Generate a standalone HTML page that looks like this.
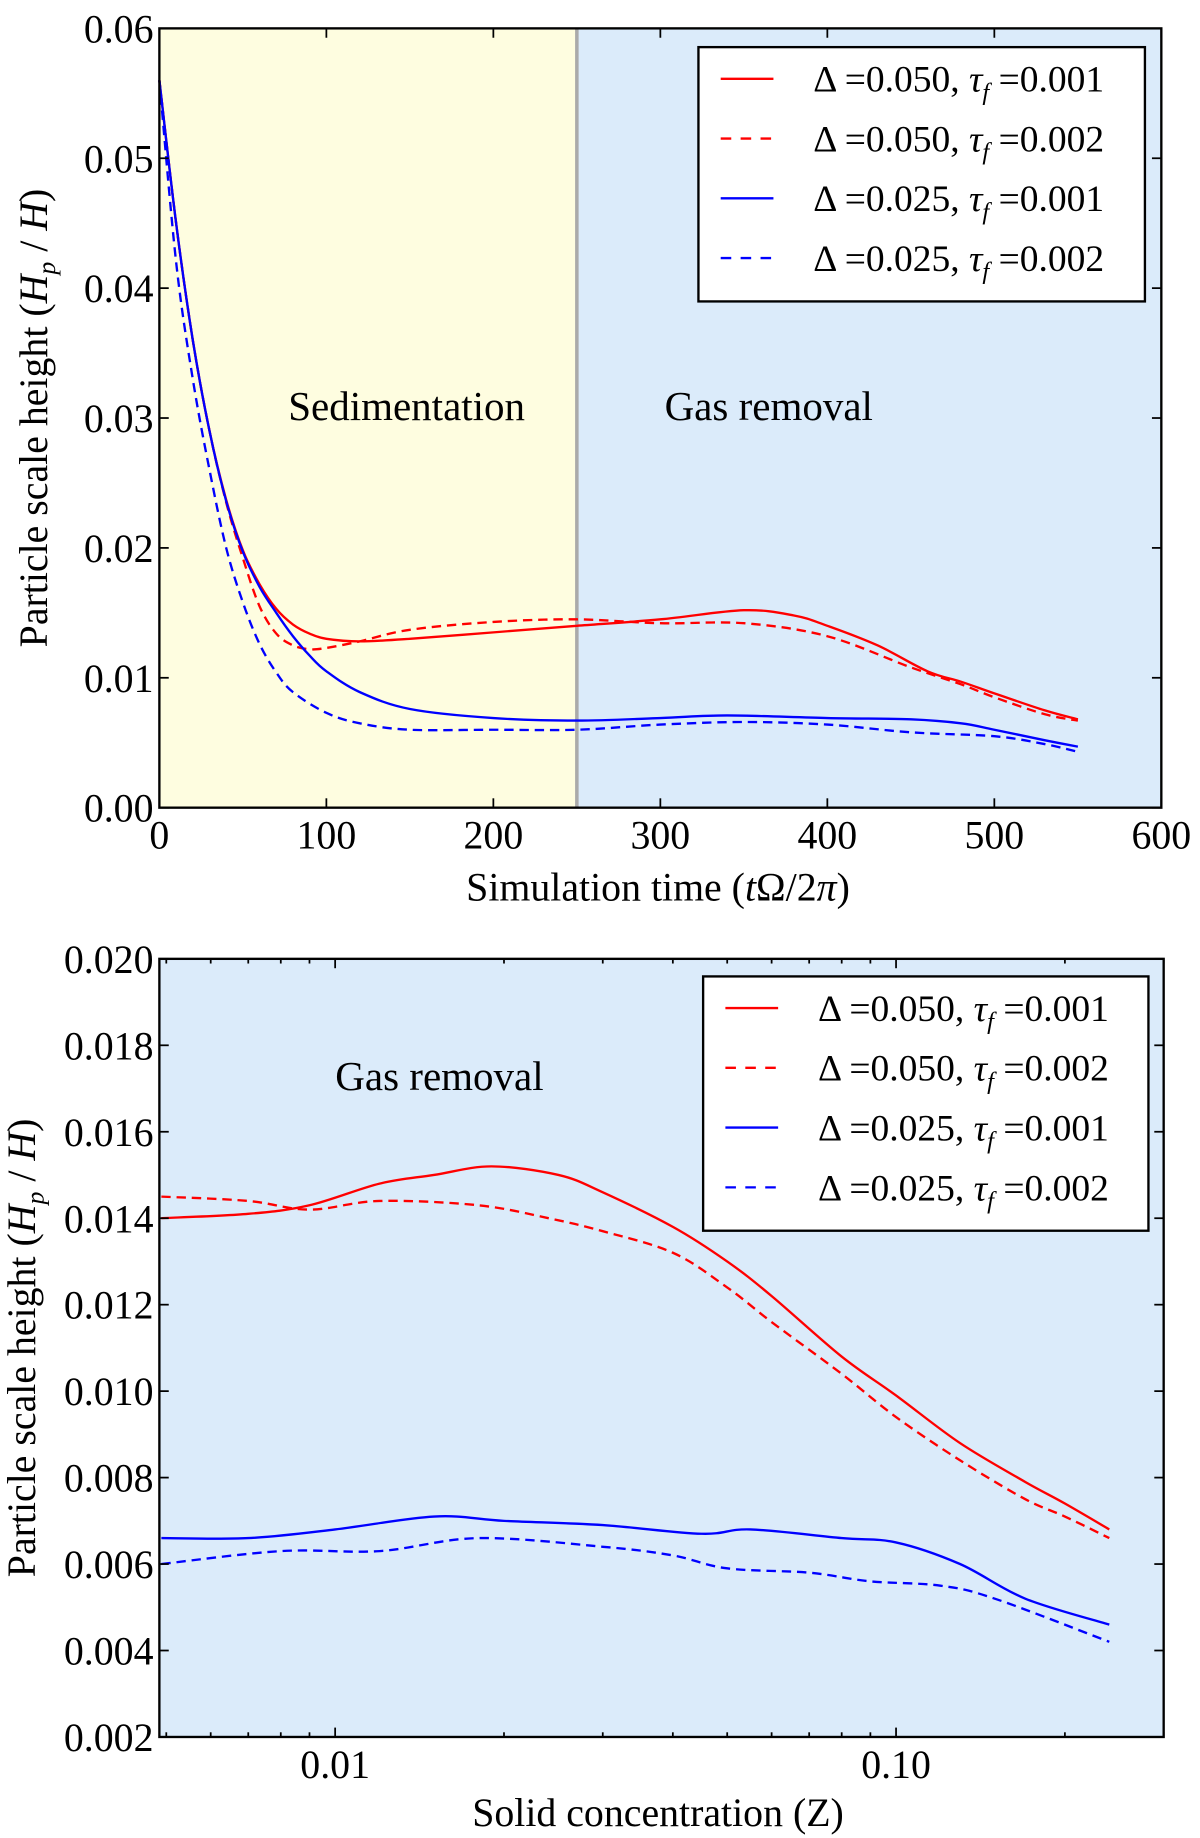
<!DOCTYPE html>
<html><head><meta charset="utf-8"><style>
html,body{margin:0;padding:0;background:#fff;}
svg{display:block;font-family:"Liberation Serif",serif;}
</style></head><body>
<svg id="fig" width="1200" height="1838" viewBox="0 0 1024 1568" xmlns="http://www.w3.org/2000/svg"></svg>
<script>
// ---- Top chart data ----
const topSeriesNames = ["Δ=0.050, τf=0.001","Δ=0.050, τf=0.002","Δ=0.025, τf=0.001","Δ=0.025, τf=0.002"];
const topRedSolidT = [0,10,20,30,40,50,60,70,80,90,100,120,150,200,250,300,350,380,400,430,460,480,500,530,550];
const topRedSolidH = [0.056,0.045,0.036,0.029,0.0237,0.0198,0.0172,0.0153,0.0141,0.0134,0.013,0.0128,0.013,0.0135,0.014,0.0145,0.0152,0.0148,0.014,0.0125,0.0105,0.0097,0.0088,0.0075,0.0068];
const topRedDashT = [0,10,20,30,40,50,60,70,80,90,100,120,150,200,250,300,350,400,450,480,500,530,550];
const topRedDashH = [0.056,0.045,0.036,0.029,0.0235,0.0192,0.0155,0.0134,0.0125,0.0122,0.0123,0.0128,0.0137,0.0143,0.0145,0.0142,0.0142,0.0132,0.0108,0.0095,0.0085,0.0072,0.0067];
const topBlueSolidT = [0,10,20,30,40,50,60,70,80,90,100,120,150,200,250,300,340,400,450,480,500,530,550];
const topBlueSolidH = [0.056,0.045,0.036,0.029,0.0236,0.0197,0.0170,0.0150,0.0132,0.0117,0.0105,0.0089,0.0076,0.0069,0.0067,0.0069,0.0071,0.0069,0.0068,0.0065,0.006,0.0052,0.0047];
const topBlueDashT = [0,10,20,30,40,50,60,70,80,100,120,150,200,250,300,350,400,450,500,530,550];
const topBlueDashH = [0.056,0.042,0.033,0.026,0.020,0.0158,0.0126,0.0104,0.0089,0.0073,0.0065,0.006,0.006,0.006,0.0064,0.0066,0.0064,0.0058,0.0055,0.0049,0.0043];
const topXTicks = [0,100,200,300,400,500,600];
const topYTicks = [0,0.01,0.02,0.03,0.04,0.05,0.06];
const topYTickLabels = ["0.00","0.01","0.02","0.03","0.04","0.05","0.06"];
// ---- Bottom chart data ----
const botRedSolidZ = [0.0049,0.007,0.009,0.012,0.015,0.019,0.025,0.03,0.04,0.05,0.06,0.08,0.1,0.13,0.17,0.2,0.24];
const botRedSolidH = [0.014,0.0141,0.0143,0.0148,0.015,0.0152,0.015,0.0146,0.0138,0.013,0.0122,0.0108,0.0099,0.0088,0.0079,0.0074,0.0068];
const botRedDashZ = [0.0049,0.007,0.009,0.012,0.018,0.024,0.03,0.04,0.05,0.06,0.08,0.1,0.13,0.17,0.2,0.24];
const botRedDashH = [0.0145,0.0144,0.0142,0.0144,0.0143,0.014,0.0137,0.0132,0.0124,0.0116,0.0104,0.0094,0.0084,0.0075,0.0071,0.0066];
const botBlueSolidZ = [0.0049,0.007,0.01,0.015,0.02,0.03,0.045,0.055,0.08,0.1,0.13,0.17,0.24];
const botBlueSolidH = [0.0066,0.0066,0.0068,0.0071,0.007,0.0069,0.0067,0.0068,0.0066,0.0065,0.006,0.0052,0.0046];
const botBlueDashZ = [0.0049,0.008,0.012,0.018,0.03,0.04,0.05,0.07,0.09,0.12,0.15,0.24];
const botBlueDashH = [0.006,0.0063,0.0063,0.0066,0.0064,0.0062,0.0059,0.0058,0.0056,0.0055,0.0052,0.0042];
const botXTicks = [0.01,0.1];
const botXTickLabels = ["0.01","0.10"];
const botXMinor = [0.005,0.006,0.007,0.008,0.009,0.02,0.03,0.04,0.05,0.06,0.07,0.08,0.09,0.2,0.3];
const botYTicks = [0.002,0.004,0.006,0.008,0.010,0.012,0.014,0.016,0.018,0.020];
const botYTickLabels = ["0.002","0.004","0.006","0.008","0.010","0.012","0.014","0.016","0.018","0.020"];

const NS="http://www.w3.org/2000/svg";
const svg=document.getElementById('fig');
function mk(tag,attrs,parent){const e=document.createElementNS(NS,tag);for(const k in attrs)e.setAttribute(k,attrs[k]);(parent||svg).appendChild(e);return e;}

const T={l:136,r:991,t:24,b:689};
const tx=v=>T.l+(v-0)/(600-0)*(T.r-T.l);
const ty=v=>T.b-(v-0)/(0.06-0)*(T.b-T.t);
const B={l:136,r:993,t:818,b:1482};
const lmin=Math.log10(0.00486), lmax=Math.log10(0.3);
const bx=v=>B.l+(Math.log10(v)-lmin)/(lmax-lmin)*(B.r-B.l);
const by=v=>B.b-(v-0.002)/(0.020-0.002)*(B.b-B.t);

let e;
e=mk('rect',{x:T.l,y:T.t,width:tx(250)-T.l,height:T.b-T.t,fill:'#fefde0'});


e=mk('rect',{x:tx(250),y:T.t,width:T.r-tx(250),height:T.b-T.t,fill:'#dbebfa'});


e=mk('line',{x1:tx(250),x2:tx(250),y1:T.t,y2:T.b,stroke:'#aaaaaa','stroke-width':3});


e=mk('rect',{x:B.l,y:B.t,width:B.r-B.l,height:B.b-B.t,fill:'#dbebfa'});



function series(xs,ys,fx,fy,color,dash,name){
  const P=xs.map((x,i)=>[fx(x),fy(ys[i])]);
  let d='M'+P[0][0].toFixed(1)+','+P[0][1].toFixed(1);
  for(let i=0;i<P.length-1;i++){
    const p0=P[Math.max(0,i-1)],p1=P[i],p2=P[i+1],p3=P[Math.min(P.length-1,i+2)];
    const c1=[p1[0]+(p2[0]-p0[0])/6,p1[1]+(p2[1]-p0[1])/6];
    const c2=[p2[0]-(p3[0]-p1[0])/6,p2[1]-(p3[1]-p1[1])/6];
    d+=` C${c1[0].toFixed(1)},${c1[1].toFixed(1)} ${c2[0].toFixed(1)},${c2[1].toFixed(1)} ${p2[0].toFixed(1)},${p2[1].toFixed(1)}`;
  }
  const p=mk('path',{d:d,fill:'none',stroke:color,'stroke-width':2,'stroke-dasharray':dash?'8,5':'none'});
  
  
}
const RED='#ff0000',BLUE='#0000ff';
series(topRedSolidT,topRedSolidH,tx,ty,RED,false,'top-red-solid-line');
series(topRedDashT,topRedDashH,tx,ty,RED,true,'top-red-dashed-line');
series(topBlueSolidT,topBlueSolidH,tx,ty,BLUE,false,'top-blue-solid-line');
series(topBlueDashT,topBlueDashH,tx,ty,BLUE,true,'top-blue-dashed-line');
series(botRedSolidZ,botRedSolidH,bx,by,RED,false,'bottom-red-solid-line');
series(botRedDashZ,botRedDashH,bx,by,RED,true,'bottom-red-dashed-line');
series(botBlueSolidZ,botBlueSolidH,bx,by,BLUE,false,'bottom-blue-solid-line');
series(botBlueDashZ,botBlueDashH,bx,by,BLUE,true,'bottom-blue-dashed-line');

function text(x,y,s,size,anchor,name,extra){
  const t=mk('text',Object.assign({x:x,y:y,'font-size':size,'text-anchor':anchor||'middle',fill:'#000'},extra||{}));
  t.textContent=s;
  
  
  return t;
}
function frame(A,name){
  e=mk('rect',{x:A.l,y:A.t,width:A.r-A.l,height:A.b-A.t,fill:'none',stroke:'#000','stroke-width':2});
  
  
}
frame(T,'top-plot-frame'); frame(B,'bottom-plot-frame');
function tick(x1,y1,x2,y2){e=mk('line',{x1,y1,x2,y2,stroke:'#000','stroke-width':1.5});}
const TS=34;
topXTicks.forEach(v=>{const x=tx(v);tick(x,T.b,x,T.b-8);tick(x,T.t,x,T.t+8);text(x,T.b+35,String(v),TS,'middle','x-tick-label');});
topYTicks.forEach((v,i)=>{const y=ty(v);tick(T.l,y,T.l+8,y);tick(T.r,y,T.r-8,y);text(T.l-5,y+12,topYTickLabels[i],TS,'end','y-tick-label');});
botXTicks.forEach((v,i)=>{const x=bx(v);tick(x,B.b,x,B.b-8);tick(x,B.t,x,B.t+8);text(x,B.b+35,botXTickLabels[i],TS,'middle','x-tick-label');});
botXMinor.forEach(v=>{const x=bx(v);if(x<B.l||x>B.r)return;tick(x,B.b,x,B.b-4);tick(x,B.t,x,B.t+4);});
botYTicks.forEach((v,i)=>{const y=by(v);tick(B.l,y,B.l+8,y);tick(B.r,y,B.r-8,y);text(B.l-5,y+12,botYTickLabels[i],TS,'end','y-tick-label');});

text(347,358,'Sedimentation',35,'middle','sedimentation-label');
text(656,358,'Gas removal',35,'middle','gas-removal-label');
text(375,930,'Gas removal',35,'middle','bottom-gas-removal-label');

function ytitle(cx,cy,name){
  const t=mk('text',{x:0,y:0,'font-size':34,'text-anchor':'middle',transform:`translate(${cx},${cy}) rotate(-90)`});
  
  
  t.innerHTML='Particle scale height (<tspan font-style="italic">H</tspan><tspan font-style="italic" font-size="22" dy="7">p</tspan><tspan dy="-7"> / </tspan><tspan font-style="italic">H</tspan>)';
}
ytitle(40,(T.t+T.b)/2,'top-y-axis-title');
ytitle(30,(B.t+B.b)/2,'bottom-y-axis-title');
let xt=text((T.l+T.r)/2-2,768,'',34,'middle','top-x-axis-title');
xt.innerHTML='Simulation time (<tspan font-style="italic">t</tspan>Ω/2<tspan font-style="italic">π</tspan>)';
text((B.l+B.r)/2-3,1558,'Solid concentration (Z)',34,'middle','bottom-x-axis-title');

function legend(x,y,w,h,name){
  const g=mk('g',{});
  
  
  mk('rect',{x,y,width:w,height:h,fill:'#fff',stroke:'#000','stroke-width':2},g);
  const cols=[RED,RED,BLUE,BLUE], dsh=[false,true,false,true];
  const labels=[['0.050','0.001'],['0.050','0.002'],['0.025','0.001'],['0.025','0.002']];
  labels.forEach((lb,i)=>{
    const yy=y+27+i*51;
    const ln=mk('line',{x1:x+19,x2:x+64,y1:yy,y2:yy,stroke:cols[i],'stroke-width':2,'stroke-dasharray':dsh[i]?'9,8':'none'},g);
    
    
    const t=mk('text',{x:x+98,y:yy+11,'font-size':32},g);
    
    
    t.innerHTML=`Δ =${lb[0]}, <tspan font-style="italic">τ</tspan><tspan font-style="italic" font-size="21" dy="7">f</tspan><tspan dy="-7"> =${lb[1]}</tspan>`;
  });
}
legend(596,40,381,217,'top-legend');
legend(600,833,380,217,'bottom-legend');
</script>
</body></html>
